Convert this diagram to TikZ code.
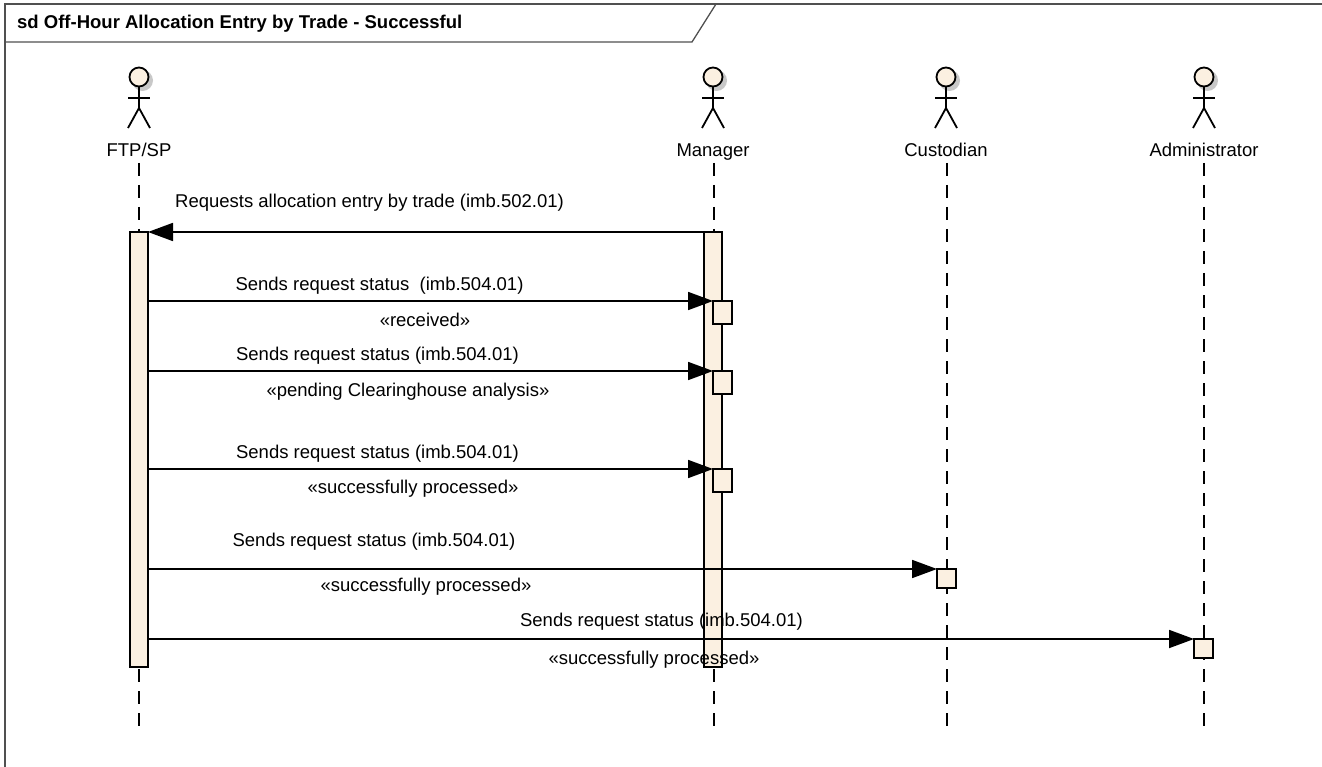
\documentclass[tikz,border=0pt]{standalone}
\usepackage{fontspec}
\setmainfont{Liberation Sans}
\usetikzlibrary{arrows.meta}
\definecolor{bodyfill}{HTML}{FBF0E1}
\definecolor{shadowc}{HTML}{C8C8C8}
\definecolor{framec}{HTML}{505050}
\tikzset{
  x=1pt,y=-1pt,
  framepath/.style={draw=framec,line width=1.3pt},
  bar/.style={draw=black,fill=bodyfill,line width=1.8pt,rectangle,inner sep=0pt,outer sep=0pt,minimum width=18pt},
  tick/.style={draw=black,fill=bodyfill,line width=1.8pt,rectangle,inner sep=0pt,outer sep=0pt,minimum width=19pt,minimum height=21pt},
  life/.style={draw=black,line width=1.8pt,dash pattern=on 13pt off 9pt},
  msg/.style={draw=black,line width=1.8pt,-{Triangle[length=25pt,width=18pt]}},
  stick/.style={draw=black,line width=1.8pt},
  lbl/.style={anchor=base,inner sep=0pt,font=\fontsize{18.5pt}{22pt}\selectfont,text=black},
  head/.style={circle,draw=black,fill=bodyfill,line width=1.8pt,minimum size=19pt,inner sep=0pt,outer sep=0pt},
}
\newcommand{\actor}[3]{%
  \fill[shadowc] (#1+3.5,80.5) circle (10.5pt);
  \node[head] (#2head) at (#1,77) {};
  \draw[stick] (#2head.south) -- (#1,108) coordinate (#2hip);
  \draw[stick] (#1-11,98) -- (#1+11,98);
  \draw[stick] (#1-11,128) -- (#2hip) -- (#1+11,128);
  \node[lbl] (#2label) at (#1,156.5) {#3};
}
\begin{document}
\begin{tikzpicture}
\useasboundingbox (0,0) rectangle (1322,767);
\fill[white] (0,0) rectangle (1322,767);
% frame
\draw[framepath] (5,767) -- (5,4) -- (1322,4);
\draw[framepath] (5,42) -- (692,42) -- (716,4);
\node[anchor=base west,inner sep=0pt,font=\bfseries\fontsize{18.5pt}{22pt}\selectfont] (title) at (17,29) {sd Off-Hour Allocation Entry by Trade - Successful};
% lifelines
\coordinate (l1a) at (139,163); \coordinate (l1b) at (139,727);
\coordinate (l2a) at (714,163); \coordinate (l2b) at (714,727);
\coordinate (l3a) at (947,163); \coordinate (l3b) at (947,727);
\coordinate (l4a) at (1204,163); \coordinate (l4b) at (1204,727);
\draw[life] (l1a) -- (l1b);
\draw[life] (l2a) -- (l2b);
\draw[life] (l3a) -- (l3b);
\draw[life] (l4a) -- (l4b);
% actors
\actor{139}{a}{FTP/SP}
\actor{713}{b}{Manager}
\actor{946}{c}{Custodian}
\actor{1204}{d}{Administrator}
% activations
\node[bar,minimum height=435pt] (barA) at (139,449.5) {};
\node[bar,minimum height=435pt] (barB) at (713,449.5) {};
\node[tick,minimum height=23pt] (t1) at (722.5,312.5) {};
\node[tick,minimum height=23pt] (t2) at (722.5,382.5) {};
\node[tick,minimum height=23pt] (t3) at (722.5,480.5) {};
\node[tick,minimum height=19pt] (t4) at (946.5,578.5) {};
\node[tick,minimum height=19pt] (t5) at (1203.5,648.5) {};
% messages
\draw[msg] (barB.north west) -- (barA.north east);
\draw[msg] (barA.east |- t1.north) -- (t1.north west);
\draw[msg] (barA.east |- t2.north) -- (t2.north west);
\draw[msg] (barA.east |- t3.north) -- (t3.north west);
\draw[msg] (barA.east |- t4.north) -- (t4.north west);
\draw[msg] (barA.east |- t5.north) -- (t5.north west);
% labels
\node[lbl] (m0) at (369.5,207.5) {Requests allocation entry by trade (imb.502.01)};
\node[lbl] (m1) at (379.5,290.5) {Sends request status\ \ (imb.504.01)};
\node[lbl] (s1) at (425,326) {«received»};
\node[lbl] (m2) at (377.5,360.5) {Sends request status (imb.504.01)};
\node[lbl] (s2) at (408,396) {«pending Clearinghouse analysis»};
\node[lbl] (m3) at (377.5,458.5) {Sends request status (imb.504.01)};
\node[lbl] (s3) at (413,493.5) {«successfully processed»};
\node[lbl] (m4) at (374,546.5) {Sends request status (imb.504.01)};
\node[lbl] (s4) at (426,591.5) {«successfully processed»};
\node[lbl] (m5) at (661.5,626.5) {Sends request status (imb.504.01)};
\node[lbl] (s5) at (654,664) {«successfully processed»};
\end{tikzpicture}
\end{document}
